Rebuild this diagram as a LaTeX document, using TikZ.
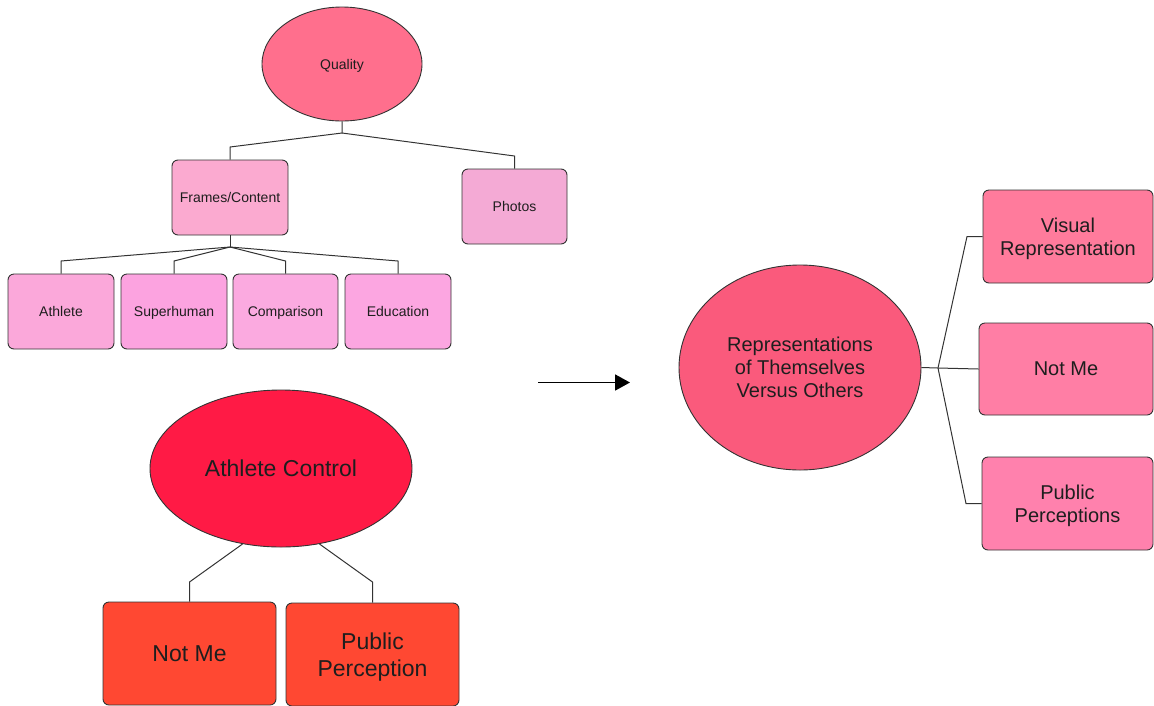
\documentclass[tikz,border=0pt]{standalone}
\usepackage{fontspec}
\setmainfont{Liberation Sans}
\usetikzlibrary{shapes.geometric,arrows.meta}

\definecolor{qualityfill}{HTML}{FF6F8D}
\definecolor{framesfill}{HTML}{FBAAD0}
\definecolor{photosfill}{HTML}{F4AAD5}
\definecolor{athletefill}{HTML}{FBA8DA}
\definecolor{superfill}{HTML}{FCA3E0}
\definecolor{comparefill}{HTML}{FBAAE0}
\definecolor{educfill}{HTML}{FCA6E1}
\definecolor{controlfill}{HTML}{FF1A45}
\definecolor{controlkid}{HTML}{FF4832}
\definecolor{repfill}{HTML}{FA5A7C}
\definecolor{visualfill}{HTML}{FF7B9C}
\definecolor{notmefill}{HTML}{FF7EA5}
\definecolor{publicfill}{HTML}{FF81AD}
\definecolor{edge}{HTML}{333333}
\definecolor{ink}{HTML}{1E1E1E}

\tikzset{
  smalltxt/.style={font=\fontsize{14}{17}\selectfont},
  midtxt/.style={font=\fontsize{20}{22.8}\selectfont},
  bigtxt/.style={font=\fontsize{23}{27}\selectfont},
  bubble/.style={ellipse, draw=edge, line width=0.9pt, inner sep=0pt, text=ink, align=center, text depth=0pt},
  card/.style={rectangle, rounded corners=6pt, draw=edge, line width=0.9pt, inner sep=0pt, text=ink, align=center, text depth=0pt},
  link/.style={draw=edge, line width=1pt},
}

\begin{document}
\begin{tikzpicture}[x=1pt,y=-1pt]
\useasboundingbox (0,0) rectangle (1154,705);

% ---- top tree: Quality ----
\node[bubble, smalltxt, fill=qualityfill, minimum width=160pt, minimum height=114pt] (quality) at (342,64) {Quality};
\node[card, smalltxt, fill=framesfill, minimum width=116pt, minimum height=75pt] (frames) at (230,197.5) {Frames/Content};
\node[card, smalltxt, fill=photosfill, minimum width=105pt, minimum height=75pt] (photos) at (514.5,206.5) {Photos};

\node[card, smalltxt, fill=athletefill, minimum width=106pt, minimum height=75pt] (athlete) at (61,311.5) {Athlete};
\node[card, smalltxt, fill=superfill, minimum width=106pt, minimum height=75pt] (superhuman) at (174,311.5) {Superhuman};
\node[card, smalltxt, fill=comparefill, minimum width=105pt, minimum height=75pt] (comparison) at (285.5,311.5) {Comparison};
\node[card, smalltxt, fill=educfill, minimum width=106pt, minimum height=75pt] (education) at (398,311.5) {Education};

\coordinate (qj) at (342,133);
\draw[link] (quality.south) -- (qj) -- (230,147) -- (frames.north);
\draw[link] (qj) -- (514.5,156) -- (photos.north);

\coordinate (fj) at (230,247);
\draw[link] (frames.south) -- (fj);
\draw[link] (fj) -- (61,261) -- (athlete.north);
\draw[link] (fj) -- (174,261) -- (superhuman.north);
\draw[link] (fj) -- (285.5,261) -- (comparison.north);
\draw[link] (fj) -- (398,261) -- (education.north);

% ---- bottom tree: Athlete Control ----
\node[bubble, bigtxt, fill=controlfill, minimum width=262pt, minimum height=157pt] (control) at (281,468.5) {Athlete Control};
\node[card, bigtxt, fill=controlkid, minimum width=173pt, minimum height=103pt] (notmeL) at (189.5,653.5) {Not Me};
\node[card, bigtxt, fill=controlkid, minimum width=173pt, minimum height=103pt] (publicL) at (372.5,654.5) {Public\\Perception};

\draw[link] (control.-117) -- (189.5,582) -- (notmeL.north);
\draw[link] (control.-63) -- (372.5,582) -- (publicL.north);

% ---- arrow between the two halves ----
\coordinate (arrfrom) at (538,382.5);
\coordinate (arrto) at (630,382.5);
\draw[line width=1.8pt, -{Triangle[length=15pt,width=16pt]}] (arrfrom) -- (arrto);

% ---- right tree: Representations ----
\node[bubble, midtxt, fill=repfill, minimum width=242pt, minimum height=205pt] (rep) at (800,367.5) {Representations\\of Themselves\\Versus Others};
\node[card, midtxt, fill=visualfill, minimum width=170pt, minimum height=93pt] (visual) at (1068,236.5) {Visual\\Representation};
\node[card, midtxt, fill=notmefill, minimum width=174pt, minimum height=92pt] (notmeR) at (1066,369) {Not Me};
\node[card, midtxt, fill=publicfill, minimum width=171pt, minimum height=93pt] (publicR) at (1067.5,503.5) {Public\\Perceptions};

\coordinate (rj) at (938,368);
\draw[link] (rep.east) -- (rj);
\draw[link] (rj) -- (967,236.5) -- (visual.west);
\draw[link] (rj) -- (notmeR.west);
\draw[link] (rj) -- (966,503.5) -- (publicR.west);
\end{tikzpicture}
\end{document}
